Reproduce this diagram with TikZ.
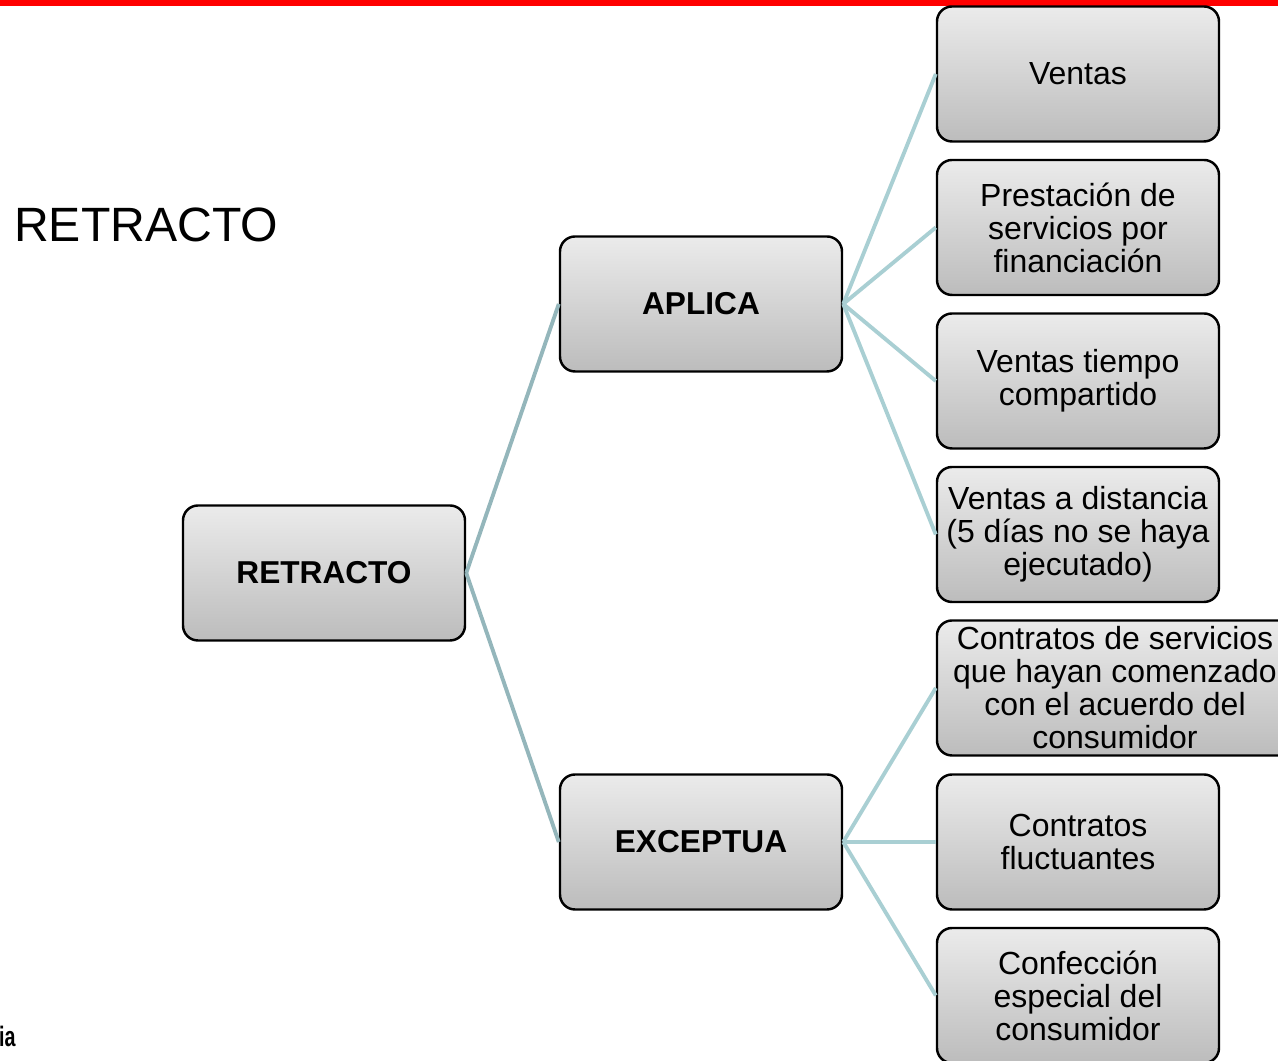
\documentclass[tikz,border=0pt]{standalone}
\usepackage{fontspec}
\setmainfont{Liberation Sans}
\usepackage{tikz}
\usetikzlibrary{shapes,arrows}
\definecolor{topbar}{HTML}{FF0000}
\definecolor{linkdark}{HTML}{94B6BB}
\definecolor{linklight}{HTML}{A9CFD3}
\definecolor{boxtop}{HTML}{EBEBEB}
\definecolor{boxbottom}{HTML}{BCBCBC}
\tikzstyle{box} = [draw=black, line width=1.4pt, rounded corners=0.3cm, top color=boxtop, bottom color=boxbottom, minimum width=5.64cm, minimum height=2.7cm, align=center, inner sep=0pt]
\tikzstyle{linkL} = [draw=linkdark, line width=2.2pt]
\tikzstyle{linkR} = [draw=linklight, line width=2.2pt]

\begin{document}
\begin{tikzpicture}
	\tikzstyle{every node}=[font=\fontsize{18.2}{18.8}\selectfont]
	\useasboundingbox (0,0) rectangle (25.56,21.22);
	\clip (0,0) rectangle (25.56,21.22);
	
	% ------------------- Top bar and title ------------------- %
	\fill[topbar] (0,21.10) rectangle (25.56,21.22);
	\node[anchor=west, font=\fontsize{27.4}{28}\selectfont] (title) at (0.16cm,16.72cm) {RETRACTO};
	\node[anchor=west, font=\fontsize{16}{16}\selectfont\bfseries] (foot) at (-0.14cm,0.5cm) {\scalebox{0.7}[1]{ia}};
	
	% ------------------- Main boxes ------------------- %
	\node[box, font=\fontsize{18}{18.8}\selectfont\bfseries] (retracto) at (6.48cm,9.76cm) {RETRACTO};
	\node[box, font=\fontsize{18}{18.8}\selectfont\bfseries] (aplica) at (14.02cm,15.14cm) {APLICA};
	\node[box, font=\fontsize{18}{18.8}\selectfont\bfseries] (exceptua) at (14.02cm,4.38cm) {EXCEPTUA};
	
	% ------------------- Right column ------------------- %
	\node[box] (ventas) at (21.56cm,19.74cm) {Ventas};
	\node[box] (prestacion) at (21.56cm,16.67cm) {Prestación de\\servicios por\\financiación};
	\node[box] (tiempo) at (21.56cm,13.60cm) {Ventas tiempo\\compartido};
	\node[box] (distancia) at (21.56cm,10.53cm) {Ventas a distancia\\(5 días no se haya\\ejecutado)};
	\node[box, minimum width=7.12cm] (servicios) at (22.30cm,7.46cm) {Contratos de servicios\\que hayan comenzado\\con el acuerdo del\\consumidor};
	\node[box] (fluctuantes) at (21.56cm,4.38cm) {Contratos\\fluctuantes};
	\node[box] (confeccion) at (21.56cm,1.31cm) {Confección\\especial del\\consumidor};
	
	% ------------------- Connectors ------------------- %
	\draw[linkL] (retracto.east) -- (aplica.west);
	\draw[linkL] (retracto.east) -- (exceptua.west);
	
	\draw[linkR] (aplica.east) -- (ventas.west);
	\draw[linkR] (aplica.east) -- (prestacion.west);
	\draw[linkR] (aplica.east) -- (tiempo.west);
	\draw[linkR] (aplica.east) -- (distancia.west);
	
	\draw[linkR] (exceptua.east) -- (servicios.west);
	\draw[linkR] (exceptua.east) -- (fluctuantes.west);
	\draw[linkR] (exceptua.east) -- (confeccion.west);
\end{tikzpicture}
\end{document}
